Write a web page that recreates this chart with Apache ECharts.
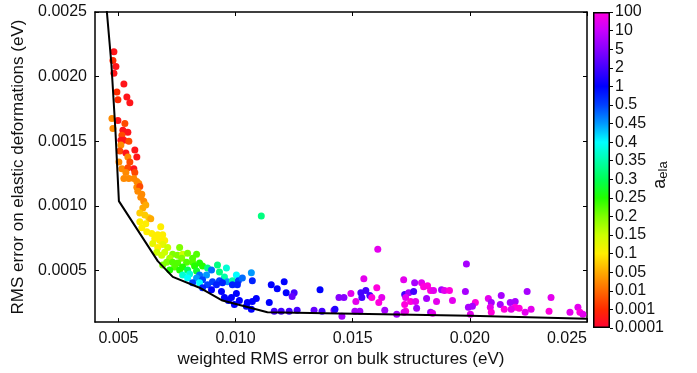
<!DOCTYPE html>
<html>
<head>
<meta charset="utf-8">
<script src="https://cdn.jsdelivr.net/npm/echarts@6/dist/echarts.min.js"></script>
<style>
  html, body { margin: 0; padding: 0; background: #fff; }
  #chart { width: 697px; height: 373px; }
</style>
</head>
<body>
<div id="chart"></div>
<script>
// axis ticks
const xTicks = [0.005, 0.01, 0.015, 0.02, 0.025];
const yTicks = [0.0005, 0.001, 0.0015, 0.002, 0.0025];

// colour bar labels, bottom to top (level 0..17)
const aelaLabels = ["0.0001", "0.001", "0.01", "0.05", "0.1", "0.15", "0.2", "0.25", "0.3",
  "0.35", "0.4", "0.45", "0.5", "1", "2", "5", "10", "100"];

// Pareto front
const frontX = [0.00446, 0.004701, 0.004871, 0.00502, 0.00668, 0.00732, 0.008464, 0.00944, 0.01136, 0.0200, 0.0250];
const frontY = [0.0026, 0.002094, 0.001584, 0.001036, 0.000572, 0.00045, 0.000366, 0.000267, 0.000176, 0.00015, 0.000125];

// fits: [bulk error, elastic error, colour level]
const redOrangePts = [
  [0.004808, 0.002193, 0.5], [0.004765, 0.002124, 1], [0.004893, 0.002079, 0.5], [0.004808, 0.002025, 0.5],
  [0.005233, 0.001942, 0.5], [0.004935, 0.001881, 1], [0.00536, 0.001843, 0.5], [0.004978, 0.00182, 1],
  [0.005488, 0.001797, 0.5], [0.004723, 0.001675, 2.5], [0.004978, 0.00166, 0.5], [0.005275, 0.001637, 1.5],
  [0.004765, 0.001599, 2.5], [0.00519, 0.001584, 0.5], [0.005403, 0.001569, 0.5], [0.005148, 0.001546, 1.5],
  [0.005105, 0.001508, 0.5], [0.005233, 0.001508, 0.5], [0.005445, 0.0015, 1.5], [0.005105, 0.00147, 2.5],
  [0.005063, 0.001424, 1.5], [0.005318, 0.001409, 0.5], [0.0057, 0.001432, 0.5], [0.005785, 0.001378, 0.5],
  [0.005403, 0.001378, 2.5], [0.00502, 0.00134, 2.5], [0.005488, 0.00134, 1.5], [0.005148, 0.001287, 2.5],
  [0.005403, 0.001295, 1.5], [0.005658, 0.001287, 0.5], [0.0057, 0.001257, 1.5], [0.005318, 0.001257, 2.5],
  [0.005233, 0.001211, 2.5], [0.005445, 0.001211, 2.5], [0.005658, 0.001211, 2.5], [0.005785, 0.001188, 2.5],
  [0.00587, 0.001173, 2.5], [0.005785, 0.001143, 2.5], [0.005913, 0.00115, 1.5], [0.005828, 0.001112, 2.5],
  [0.005998, 0.001089, 2.5], [0.005955, 0.001066, 2.5], [0.006083, 0.001036, 2.5], [0.006168, 0.001006, 3],
  [0.00604, 0.000983, 3], [0.005913, 0.000945, 3.5], [0.006125, 0.000929, 3.5], [0.006295, 0.000907, 3.5]
];

const yellowGreenPts = [
  [0.005913, 0.000876, 4], [0.006168, 0.000861, 4], [0.005998, 0.000831, 4], [0.00621, 0.0008, 4],
  [0.00638, 0.000899, 3], [0.006805, 0.000838, 4], [0.006423, 0.000785, 4], [0.006678, 0.000777, 4],
  [0.00689, 0.000777, 4], [0.00655, 0.000747, 4], [0.006763, 0.000732, 4], [0.006975, 0.000732, 4],
  [0.006465, 0.000709, 4.5], [0.00689, 0.000701, 4.5], [0.007103, 0.000678, 5], [0.006678, 0.000678, 4],
  [0.007613, 0.000678, 6], [0.006635, 0.00064, 5], [0.006975, 0.00064, 5], [0.006848, 0.000617, 5],
  [0.007315, 0.000625, 6], [0.007528, 0.000617, 6], [0.00774, 0.000625, 5], [0.007953, 0.000633, 6],
  [0.008335, 0.000625, 6.5], [0.007188, 0.000595, 5.5], [0.007698, 0.000595, 6], [0.008165, 0.000595, 6.5],
  [0.00706, 0.000564, 6], [0.007315, 0.000564, 6.5], [0.007528, 0.000557, 6.5], [0.00791, 0.000564, 6.5],
  [0.008165, 0.000564, 6.5], [0.008463, 0.000557, 7], [0.00689, 0.000541, 6], [0.0074, 0.000526, 6.5],
  [0.00774, 0.000526, 7], [0.00825, 0.000534, 7], [0.00859, 0.000534, 7], [0.008803, 0.000519, 8.5],
  [0.009228, 0.000541, 8.5], [0.00961, 0.000519, 9.5], [0.007188, 0.000503, 7], [0.007613, 0.000503, 7],
  [0.007953, 0.000503, 8], [0.008335, 0.000496, 7.5], [0.009313, 0.000488, 8.5], [0.009525, 0.00045, 9],
  [0.011098, 0.000922, 8.5]
];

const cyanBluePts = [
  [0.008973, 0.000503, 11.5], [0.008038, 0.000473, 9.5], [0.00774, 0.000465, 9.5], [0.008463, 0.000465, 11.5],
  [0.00876, 0.000465, 11], [0.010035, 0.000465, 10], [0.010673, 0.000481, 11], [0.007953, 0.000442, 10],
  [0.008335, 0.000442, 11], [0.00859, 0.000427, 12], [0.009015, 0.000412, 12], [0.009313, 0.00042, 12],
  [0.009653, 0.000412, 11], [0.009865, 0.00042, 9], [0.01012, 0.00042, 12], [0.01029, 0.000442, 11.5],
  [0.008165, 0.000404, 12], [0.008463, 0.000404, 10], [0.008803, 0.000389, 12], [0.009185, 0.000389, 12.5],
  [0.00944, 0.000404, 12.5], [0.009865, 0.000389, 12.5], [0.010078, 0.000389, 12.5], [0.010715, 0.00042, 12.5],
  [0.00859, 0.000366, 12.5], [0.008973, 0.000351, 13], [0.009398, 0.000336, 13], [0.010035, 0.000321, 13],
  [0.009525, 0.00029, 13], [0.009823, 0.00029, 13], [0.011523, 0.000389, 13], [0.012075, 0.000412, 13],
  [0.011778, 0.000359, 13], [0.01216, 0.000328, 13], [0.0125, 0.000328, 14], [0.012415, 0.000298, 14.5],
  [0.013605, 0.000351, 13], [0.009695, 0.000267, 13], [0.010163, 0.000267, 13], [0.010503, 0.000252, 13],
  [0.010715, 0.00026, 13], [0.010885, 0.000283, 13], [0.00995, 0.000237, 13], [0.01046, 0.000222, 13],
  [0.011438, 0.000252, 13], [0.010673, 0.000199, 13], [0.01165, 0.000184, 14], [0.011948, 0.000184, 14],
  [0.012288, 0.000184, 14], [0.012628, 0.000191, 14], [0.01335, 0.000191, 14.5], [0.01369, 0.000184, 14],
  [0.0142, 0.000191, 15], [0.014243, 0.000199, 13.5]
];

const purplePinkPts = [
  [0.01607, 0.000663, 16.5], [0.019853, 0.000549, 15.5], [0.015475, 0.000435, 16.5], [0.017175, 0.000427, 16.5],
  [0.016028, 0.000366, 17], [0.01794, 0.000404, 16.5], [0.017643, 0.000404, 15.5], [0.018025, 0.000374, 17],
  [0.018195, 0.000382, 17], [0.018323, 0.000344, 17], [0.01845, 0.000344, 16.5], [0.01879, 0.000351, 15.5],
  [0.018918, 0.000344, 16.5], [0.01913, 0.000344, 17], [0.01981, 0.000336, 15.5], [0.022445, 0.000336, 15.5],
  [0.02134, 0.000305, 15.5], [0.023465, 0.00029, 16.5], [0.014413, 0.00029, 15], [0.014625, 0.00029, 15],
  [0.014923, 0.000321, 16.5], [0.015348, 0.000328, 14], [0.01556, 0.000344, 14], [0.01539, 0.00029, 14],
  [0.01573, 0.000305, 14], [0.015815, 0.00029, 17], [0.01624, 0.00029, 16.5], [0.017218, 0.000313, 14],
  [0.017388, 0.000328, 15.5], [0.0176, 0.000336, 14], [0.01726, 0.00029, 16.5], [0.018153, 0.000283, 15.5],
  [0.019258, 0.000267, 16.5], [0.020788, 0.000283, 16.5], [0.015135, 0.00026, 16.5], [0.016113, 0.000252, 17],
  [0.017473, 0.00026, 17], [0.017685, 0.00026, 16.5], [0.018578, 0.00026, 16.5], [0.020235, 0.000252, 17],
  [0.020915, 0.000252, 15.5], [0.021723, 0.000252, 15.5], [0.021935, 0.00026, 15.5], [0.017218, 0.000237, 17],
  [0.020108, 0.000222, 15.5], [0.019938, 0.000214, 15.5], [0.020873, 0.000214, 16.5], [0.021298, 0.000237, 15.5],
  [0.021935, 0.000214, 17], [0.022105, 0.000207, 17], [0.021468, 0.000199, 17], [0.021765, 0.000199, 16.5],
  [0.022615, 0.000199, 16.5], [0.02338, 0.000184, 17], [0.024273, 0.000176, 16.5], [0.024613, 0.000214, 16.5],
  [0.024698, 0.000176, 17], [0.024825, 0.000161, 16.5], [0.016368, 0.000191, 15.5], [0.01726, 0.000184, 17],
  [0.017728, 0.000207, 15.5], [0.015093, 0.000184, 15.5], [0.015305, 0.000184, 15.5], [0.016878, 0.000161, 15.5],
  [0.018323, 0.000176, 15.5], [0.018408, 0.000168, 16.5], [0.020023, 0.000161, 16.5], [0.020915, 0.000176, 17],
  [0.01454, 0.000146, 15.5], [0.02236, 0.000176, 16.5], [0.01719, 0.000176, 16.5]
];

// colour bar colours, bottom to top
const barColors = ["#ff0033", "#ff2a00", "#ff6a00", "#ffaa00", "#ffee00", "#ccff00", "#7fff00", "#22ff00",
  "#00ff55", "#00ffaa", "#00ffff", "#0099ff", "#0040ff", "#0000ff", "#4400ff", "#8800ff", "#c800ff", "#ff00dd"];

const font = "'Liberation Sans', Arial, sans-serif";
const ink = "#111";
const allPts = [].concat(redOrangePts, yellowGreenPts, cyanBluePts, purplePinkPts);

const chart = echarts.init(document.getElementById("chart"), null, { renderer: "canvas" });

const frameAxis = {
  axisLine: { show: true, lineStyle: { color: "#000", width: 1.5 } },
  splitLine: { show: false },
};

chart.setOption({
  animation: false,
  backgroundColor: "#fff",
  textStyle: { fontFamily: font },
  grid: [
    { left: 95, right: 110, top: 12, bottom: 45 },
    { left: 593, width: 17, top: 12, bottom: 45 },
  ],
  xAxis: [
    {
      ...frameAxis, type: "value", gridIndex: 0, min: 0.004, max: 0.025, position: "bottom",
      name: "weighted RMS error on bulk structures (eV)", nameLocation: "middle", nameGap: 20,
      nameTextStyle: { fontSize: 17, color: ink, fontFamily: font },
      axisTick: { inside: true, length: 4, customValues: xTicks, lineStyle: { color: "#000" } },
      axisLabel: {
        customValues: xTicks, fontSize: 16, color: ink, margin: 8, alignMaxLabel: "right",
        formatter: (v) => v.toFixed(3),
      },
    },
    {
      ...frameAxis, type: "value", gridIndex: 0, min: 0.004, max: 0.025, position: "top",
      axisTick: { inside: true, length: 4, customValues: xTicks, lineStyle: { color: "#000" } },
      axisLabel: { show: false },
    },
    {
      type: "category", gridIndex: 1, data: [""], show: false,
    },
  ],
  yAxis: [
    {
      ...frameAxis, type: "value", gridIndex: 0, min: 0.0001, max: 0.0025, position: "left",
      name: "RMS error on elastic deformations (eV)", nameLocation: "middle", nameGap: 67,
      nameTextStyle: { fontSize: 17, color: ink, fontFamily: font },
      axisTick: { inside: true, length: 4, customValues: yTicks, lineStyle: { color: "#000" } },
      axisLabel: { customValues: yTicks, fontSize: 16, color: ink, margin: 8, formatter: (v) => v.toFixed(4) },
    },
    {
      ...frameAxis, type: "value", gridIndex: 0, min: 0.0001, max: 0.0025, position: "right",
      axisTick: { inside: true, length: 4, customValues: yTicks, lineStyle: { color: "#000" } },
      axisLabel: { show: false },
    },
    {
      type: "value", gridIndex: 1, min: 0, max: aelaLabels.length - 1, interval: 1, position: "right",
      axisLine: { show: false }, splitLine: { show: false },
      axisTick: { show: true, length: 3, lineStyle: { color: "#000" } },
      axisLabel: { fontSize: 16, color: ink, margin: 5, formatter: (v) => aelaLabels[v] ?? "" },
    },
  ],
  visualMap: {
    type: "continuous", show: false, seriesIndex: 0, dimension: 2,
    min: 0, max: aelaLabels.length - 1, inRange: { color: barColors },
  },
  graphic: [
    {
      type: "text", x: 660, y: 175, rotation: Math.PI / 2,
      style: {
        text: "{a|a}{s|ela}", align: "center", verticalAlign: "middle", fill: ink,
        rich: {
          a: { fontSize: 18, lineHeight: 20, fontFamily: font, fill: ink },
          s: { fontSize: 13, lineHeight: 13, verticalAlign: "bottom", fontFamily: font, fill: ink },
        },
      },
    },
  ],
  series: [
    {
      type: "scatter", xAxisIndex: 0, yAxisIndex: 0,
      symbolSize: 7, data: allPts, itemStyle: { opacity: 1 }, z: 2,
    },
    {
      type: "line", xAxisIndex: 0, yAxisIndex: 0, symbol: "none", clip: true, z: 3,
      lineStyle: { color: "#000", width: 2 },
      data: frontX.map((x, i) => [x, frontY[i]]),
    },
    {
      type: "bar", xAxisIndex: 2, yAxisIndex: 2, barWidth: "100%", silent: true,
      data: [aelaLabels.length - 1],
      itemStyle: {
        borderColor: "#000", borderWidth: 1.5,
        color: new echarts.graphic.LinearGradient(0, 1, 0, 0,
          barColors.map((c, i) => ({ offset: i / (barColors.length - 1), color: c }))),
      },
    },
  ],
});
</script>
</body>
</html>
